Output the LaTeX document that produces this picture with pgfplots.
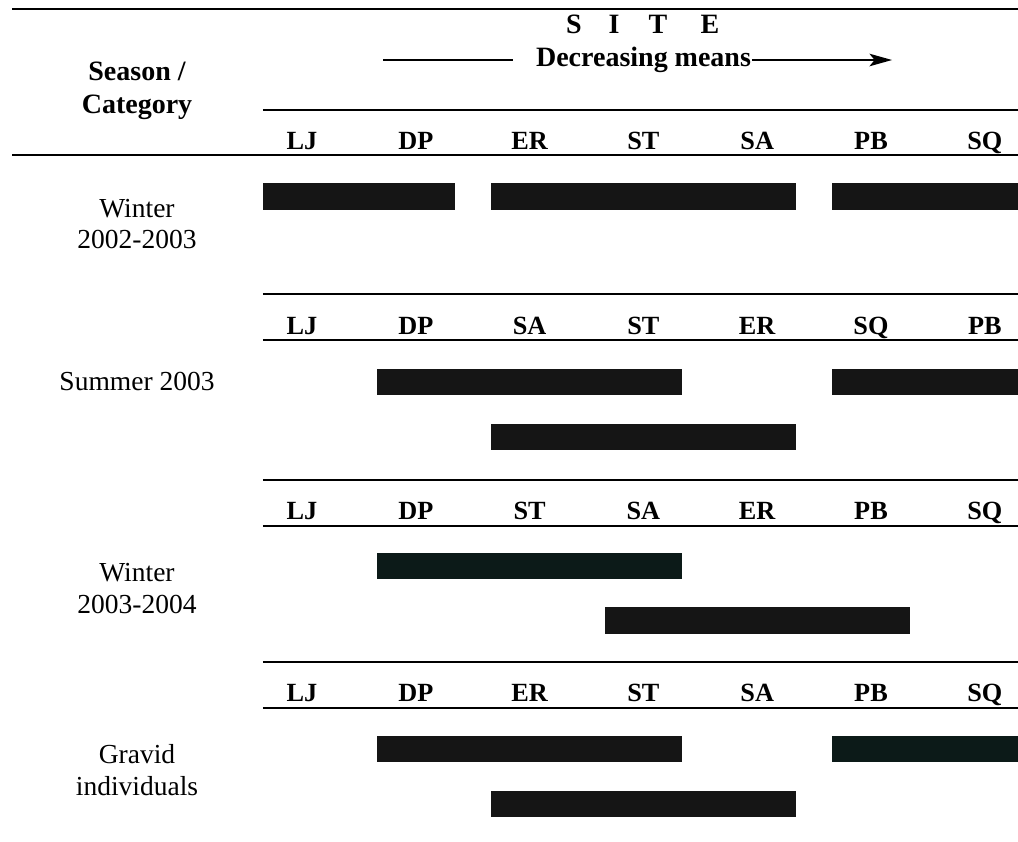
\documentclass[border=0pt]{standalone}
\usepackage{pgfplots}
\pgfplotsset{compat=1.18}
\usetikzlibrary{arrows.meta}
\usepackage{fontspec}
\setmainfont{Liberation Serif}

% x: column units (0 = first site column, 1 = second, ...); y: rows from the top
\definecolor{barc}{RGB}{21,21,21}
\definecolor{bart}{RGB}{12,26,24}
\newcommand{\hdr}{\fontsize{10.5}{12}\selectfont\bfseries}
\newcommand{\hdrb}{\fontsize{11.2}{13}\selectfont\bfseries}
\newcommand{\lab}{\fontsize{11}{13}\selectfont}

\begin{document}
\begin{tikzpicture}[rule/.style={line width=0.75pt}]
\begin{axis}[
  scale only axis, width=407.2pt, height=336.4pt,
  xmin=-2.654, xmax=6.292, ymin=0, ymax=841, y dir=reverse,
  hide axis, clip=true,
]
% keep the full frame as the picture's size
\path (rel axis cs:0,0) -- (rel axis cs:1,1);
% rules
\draw[rule] (axis cs:-2.548,9) -- (axis cs:6.292,9);
\draw[rule] (axis cs:-0.343,110) -- (axis cs:6.292,110);
\draw[rule] (axis cs:-2.548,155) -- (axis cs:6.292,155);
\draw[rule] (axis cs:-0.343,294) -- (axis cs:6.292,294);
\draw[rule] (axis cs:-0.343,340) -- (axis cs:6.292,340);
\draw[rule] (axis cs:-0.343,480) -- (axis cs:6.292,480);
\draw[rule] (axis cs:-0.343,526) -- (axis cs:6.292,526);
\draw[rule] (axis cs:-0.343,662) -- (axis cs:6.292,662);
\draw[rule] (axis cs:-0.343,708) -- (axis cs:6.292,708);

% title
\node[anchor=base, font=\hdrb] at (axis cs:2.390,33) {S};
\node[anchor=base, font=\hdrb] at (axis cs:2.742,33) {I};
\node[anchor=base, font=\hdrb] at (axis cs:3.128,33) {T};
\node[anchor=base, font=\hdrb] at (axis cs:3.585,33) {E};
\node[anchor=base, font=\hdrb] at (axis cs:3.001,66) {Decreasing means};
\draw[line width=0.7pt] (axis cs:0.712,60) -- (axis cs:1.854,60);
\draw[line width=0.7pt, -{Stealth[length=9pt,width=5pt,inset=2pt]}] (axis cs:3.954,60) -- (axis cs:5.185,60);

\node[anchor=base, font=\hdrb] at (axis cs:-1.450,80) {Season /};
\node[anchor=base, font=\hdrb] at (axis cs:-1.450,113) {Category};

% header rows
\node[anchor=base, font=\hdr] at (axis cs:0,149) {LJ};
\node[anchor=base, font=\hdr] at (axis cs:1,149) {DP};
\node[anchor=base, font=\hdr] at (axis cs:2,149) {ER};
\node[anchor=base, font=\hdr] at (axis cs:3,149) {ST};
\node[anchor=base, font=\hdr] at (axis cs:4,149) {SA};
\node[anchor=base, font=\hdr] at (axis cs:5,149) {PB};
\node[anchor=base, font=\hdr] at (axis cs:6,149) {SQ};

\node[anchor=base, font=\hdr] at (axis cs:0,334) {LJ};
\node[anchor=base, font=\hdr] at (axis cs:1,334) {DP};
\node[anchor=base, font=\hdr] at (axis cs:2,334) {SA};
\node[anchor=base, font=\hdr] at (axis cs:3,334) {ST};
\node[anchor=base, font=\hdr] at (axis cs:4,334) {ER};
\node[anchor=base, font=\hdr] at (axis cs:5,334) {SQ};
\node[anchor=base, font=\hdr] at (axis cs:6,334) {PB};

\node[anchor=base, font=\hdr] at (axis cs:0,519) {LJ};
\node[anchor=base, font=\hdr] at (axis cs:1,519) {DP};
\node[anchor=base, font=\hdr] at (axis cs:2,519) {ST};
\node[anchor=base, font=\hdr] at (axis cs:3,519) {SA};
\node[anchor=base, font=\hdr] at (axis cs:4,519) {ER};
\node[anchor=base, font=\hdr] at (axis cs:5,519) {PB};
\node[anchor=base, font=\hdr] at (axis cs:6,519) {SQ};

\node[anchor=base, font=\hdr] at (axis cs:0,701) {LJ};
\node[anchor=base, font=\hdr] at (axis cs:1,701) {DP};
\node[anchor=base, font=\hdr] at (axis cs:2,701) {ER};
\node[anchor=base, font=\hdr] at (axis cs:3,701) {ST};
\node[anchor=base, font=\hdr] at (axis cs:4,701) {SA};
\node[anchor=base, font=\hdr] at (axis cs:5,701) {PB};
\node[anchor=base, font=\hdr] at (axis cs:6,701) {SQ};

% row labels
\node[anchor=base, font=\lab] at (axis cs:-1.450,217) {Winter};
\node[anchor=base, font=\lab] at (axis cs:-1.450,248) {2002-2003};
\node[anchor=base, font=\lab] at (axis cs:-1.450,390) {Summer 2003};
\node[anchor=base, font=\lab] at (axis cs:-1.450,581) {Winter};
\node[anchor=base, font=\lab] at (axis cs:-1.450,613) {2003-2004};
\node[anchor=base, font=\lab] at (axis cs:-1.450,763) {Gravid};
\node[anchor=base, font=\lab] at (axis cs:-1.450,795) {individuals};

% bars (homogeneous groups), Winter 2002-2003
\addplot[fill=barc, draw=none] coordinates {(-0.34,183) (1.34,183) (1.34,210) (-0.34,210)};
\addplot[fill=barc, draw=none] coordinates {(1.66,183) (4.34,183) (4.34,210) (1.66,210)};
\addplot[fill=barc, draw=none] coordinates {(4.66,183) (6.34,183) (6.34,210) (4.66,210)};
% Summer 2003
\addplot[fill=barc, draw=none] coordinates {(0.66,369) (3.34,369) (3.34,395) (0.66,395)};
\addplot[fill=barc, draw=none] coordinates {(4.66,369) (6.34,369) (6.34,395) (4.66,395)};
\addplot[fill=barc, draw=none] coordinates {(1.66,424) (4.34,424) (4.34,450) (1.66,450)};
% Winter 2003-2004
\addplot[fill=bart, draw=none] coordinates {(0.66,553) (3.34,553) (3.34,579) (0.66,579)};
\addplot[fill=barc, draw=none] coordinates {(2.66,607) (5.34,607) (5.34,634) (2.66,634)};
% Gravid individuals
\addplot[fill=barc, draw=none] coordinates {(0.66,736) (3.34,736) (3.34,762) (0.66,762)};
\addplot[fill=bart, draw=none] coordinates {(4.66,736) (6.34,736) (6.34,762) (4.66,762)};
\addplot[fill=barc, draw=none] coordinates {(1.66,791) (4.34,791) (4.34,817) (1.66,817)};
\end{axis}
\end{tikzpicture}
\end{document}
